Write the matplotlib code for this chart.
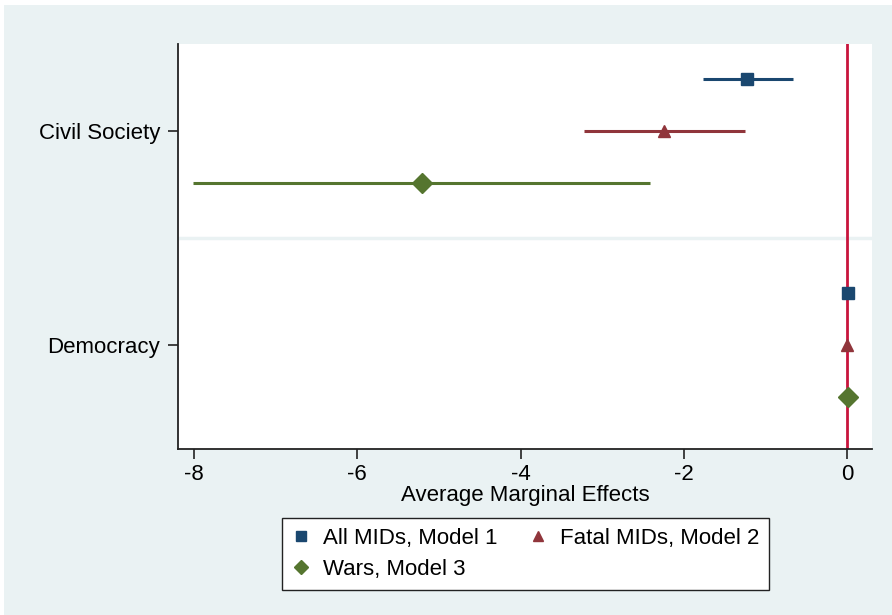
import matplotlib

matplotlib.use("Agg")
import matplotlib.pyplot as plt  # noqa: E402
from matplotlib.lines import Line2D  # noqa: E402
from matplotlib.patches import Rectangle  # noqa: E402

# point estimates and 95% intervals
variables = ["Civil Society", "Democracy"]
models = ["All MIDs, Model 1", "Fatal MIDs, Model 2", "Wars, Model 3"]
est = {
    "All MIDs, Model 1": [-1.23, 0.01],
    "Fatal MIDs, Model 2": [-2.24, 0.0],
    "Wars, Model 3": [-5.21, 0.01],
}
lo = {
    "All MIDs, Model 1": [-1.77, -0.01],
    "Fatal MIDs, Model 2": [-3.22, -0.01],
    "Wars, Model 3": [-8.01, -0.04],
}
hi = {
    "All MIDs, Model 1": [-0.66, 0.03],
    "Fatal MIDs, Model 2": [-1.25, 0.01],
    "Wars, Model 3": [-2.41, 0.11],
}
xticks = [-8, -6, -4, -2, 0]

colors = ["#1a476f", "#90353b", "#55752f"]
markers = ["s", "^", "D"]
offsets = [-0.245, 0.0, 0.245]

BG = "#eaf2f3"
font = "Liberation Sans"

fig = plt.figure(figsize=(8.92, 6.15), dpi=100)
fig.patches.append(Rectangle((4 / 892, 0), 1, 1 - 5 / 615, transform=fig.transFigure,
                             facecolor=BG, edgecolor="none", zorder=-10))
ax = fig.add_axes([178 / 892, 1 - 449 / 615, (872 - 178) / 892, (449 - 44) / 615])
ax.set_facecolor("white")

ax.axhline(0.5, color=BG, lw=2.5, zorder=1)
ax.axvline(0, color="#c8143c", lw=2, zorder=2)

for m, c, mk, off in zip(models, colors, markers, offsets):
    for i in range(len(variables)):
        y = i + off
        ax.plot([lo[m][i], hi[m][i]], [y, y], color=c, lw=2.2, solid_capstyle="butt", zorder=3)
        ax.plot(est[m][i], y, marker=mk, color=c, markersize=9 if mk != "D" else 10,
                markeredgecolor=c, zorder=4)

ax.set_xlim(-8.196, 0.306)
ax.set_ylim(1.486, -0.4065)
ax.set_xticks(xticks)
ax.set_xticklabels([f"{t:g}" for t in xticks])
ax.set_yticks(range(len(variables)))
ax.set_yticklabels(variables)

for lab in ax.get_xticklabels() + ax.get_yticklabels():
    lab.set_fontfamily(font)
    lab.set_fontsize(16)
ax.tick_params(axis="both", direction="out", length=7, width=1.2, color="#222222")
ax.tick_params(axis="x", pad=4)
ax.tick_params(axis="y", pad=6)
ax.set_xlabel("Average Marginal Effects", fontfamily=font, fontsize=16, labelpad=0)

for s in ["top", "right"]:
    ax.spines[s].set_visible(False)
for s in ["left", "bottom"]:
    ax.spines[s].set_color("#222222")
    ax.spines[s].set_linewidth(1.3)

# legend fills row by row in the reference: reorder for matplotlib's column fill
order = [0, 2, 1]
handles = [Line2D([], [], linestyle="none", marker=markers[k], color=colors[k], markersize=7)
           for k in order]
leg = fig.legend(handles, [models[k] for k in order], loc="upper left",
                 bbox_to_anchor=(282 / 892, 1 - 518 / 615), borderaxespad=0,
                 ncol=2, frameon=True, fancybox=False, edgecolor="#222222", framealpha=1,
                 prop={"family": font, "size": 16}, handlelength=0.8, handletextpad=0.6,
                 columnspacing=1.4, borderpad=0.45, labelspacing=0.45)
leg.get_frame().set_linewidth(1.0)

fig.savefig("out.png", dpi=100, facecolor="white")
